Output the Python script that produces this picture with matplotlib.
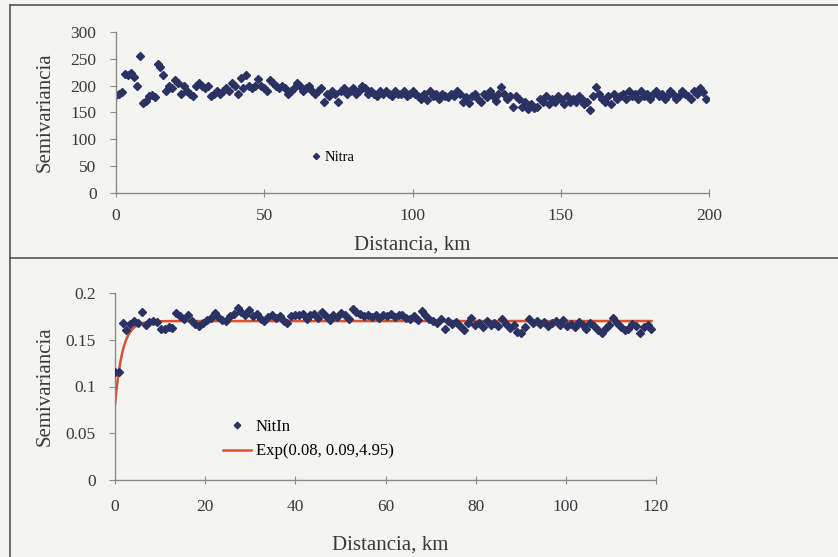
"""Semivariogramas de nitratos (Nitra) y log-nitratos (NitIn) con modelo exponencial."""

import numpy as np
import matplotlib
matplotlib.use("Agg")
from matplotlib import pyplot as plt
from matplotlib.lines import Line2D
from matplotlib.ticker import FormatStrFormatter

# --- panel superior: Nitra, un punto por clase de distancia de 1 km
lag_top = 1.0
nitra = [
    182, 185, 188, 222, 220, 223, 216, 200, 256, 168,
    172, 180, 182, 178, 240, 235, 220, 190, 200, 195,
    210, 205, 185, 200, 190, 185, 180, 200, 205, 200,
    195, 200, 180, 185, 190, 185, 190, 195, 190, 205,
    200, 185, 215, 195, 220, 200, 195, 200, 212, 200,
    195, 190, 210, 205, 200, 195, 200, 195, 185, 190,
    195, 205, 200, 190, 195, 200, 190, 185, 190, 195,
    170, 185, 180, 190, 185, 170, 190, 195, 185, 190,
    195, 185, 190, 200, 195, 185, 190, 185, 180, 190,
    185, 190, 185, 180, 190, 185, 185, 190, 180, 185,
    190, 185, 180, 175, 185, 173, 190, 180, 185, 175,
    185, 180, 178, 185, 180, 190, 185, 170, 178, 168,
    180, 185, 175, 170, 185, 178, 190, 180, 172, 185,
    197, 185, 175, 180, 160, 180, 175, 160, 170, 157,
    165, 158, 160, 175, 170, 180, 165, 175, 170, 180,
    175, 165, 180, 170, 175, 170, 180, 175, 165, 170,
    155, 180, 197, 185, 175, 170, 180, 165, 185, 175,
    180, 185, 175, 190, 180, 185, 175, 190, 180, 185,
    175, 185, 190, 180, 185, 175, 180, 190, 185, 175,
    180, 190, 185, 180, 175, 190, 185, 195, 188, 175,
]

# --- panel inferior: NitIn, clases de 0.85 km
lag_bot = 0.85
nitln = [
    0.116, 0.116, 0.168, 0.160, 0.167, 0.170, 0.168, 0.180, 0.166, 0.169,
    0.170, 0.169, 0.161, 0.162, 0.164, 0.163, 0.179, 0.175, 0.172, 0.177,
    0.170, 0.167, 0.165, 0.168, 0.171, 0.173, 0.179, 0.174, 0.171, 0.170,
    0.175, 0.178, 0.184, 0.180, 0.176, 0.182, 0.175, 0.178, 0.172, 0.170,
    0.174, 0.176, 0.173, 0.175, 0.170, 0.168, 0.175, 0.177, 0.176, 0.178,
    0.172, 0.176, 0.178, 0.173, 0.180, 0.175, 0.171, 0.177, 0.174, 0.179,
    0.176, 0.172, 0.183, 0.180, 0.178, 0.175, 0.177, 0.174, 0.176, 0.173,
    0.177, 0.175, 0.178, 0.174, 0.176, 0.177, 0.173, 0.172, 0.175, 0.171,
    0.181, 0.176, 0.172, 0.170, 0.168, 0.172, 0.161, 0.170, 0.167, 0.169,
    0.165, 0.160, 0.168, 0.173, 0.166, 0.168, 0.164, 0.170, 0.166, 0.168,
    0.165, 0.172, 0.167, 0.163, 0.166, 0.158, 0.157, 0.164, 0.172, 0.168,
    0.170, 0.167, 0.169, 0.165, 0.168, 0.170, 0.166, 0.171, 0.165, 0.167,
    0.164, 0.169, 0.166, 0.162, 0.168, 0.165, 0.160, 0.157, 0.163, 0.166,
    0.173, 0.168, 0.164, 0.160, 0.162, 0.167, 0.165, 0.157, 0.164, 0.166,
    0.162,
]

# modelo exponencial: pepita, meseta parcial, alcance
nugget, psill, rng = 0.08, 0.09, 4.95
model_label = "Exp(0.08, 0.09,4.95)"

BG = "#f4f4f3"
NAVY = "#2a3263"
RED = "#d5532f"
AXC = "#8a8a8a"
TXT = "#3a3a3a"

plt.rcParams["font.family"] = ["Liberation Serif", "DejaVu Serif"]

fig = plt.figure(figsize=(8.38, 5.57), dpi=100, facecolor=BG)

# marcos del documento
fig.add_artist(Line2D([10 / 838, 1], [1 - 5 / 557] * 2, color="#555555", lw=1.2))
fig.add_artist(Line2D([10 / 838] * 2, [0, 1 - 5 / 557], color="#555555", lw=1.2))
fig.add_artist(Line2D([10 / 838, 1], [1 - 258 / 557] * 2, color="#555555", lw=1.2))


def style_axes(ax, xpad):
    ax.set_facecolor(BG)
    for s in ("top", "right"):
        ax.spines[s].set_visible(False)
    for s in ("left", "bottom"):
        ax.spines[s].set_color(AXC)
        ax.spines[s].set_linewidth(1.0)
    ax.tick_params(axis="x", direction="inout", length=6, color=AXC, labelsize=12.5,
                   labelcolor=TXT, pad=xpad)
    ax.tick_params(axis="y", direction="out", length=4, color=AXC, labelsize=12.5,
                   labelcolor=TXT, pad=10)


# --- superior
ax1 = fig.add_axes([116 / 838, 1 - 193 / 557, 593 / 838, 161 / 557])
style_axes(ax1, 8)
x1 = np.arange(len(nitra)) * lag_top
ax1.plot(x1, nitra, "D", color=NAVY, ms=3.7, mec=NAVY, ls="none", label="Nitra")
ax1.set_xlim(0, 200)
ax1.set_ylim(0, 300)
ax1.set_xticks(range(0, 201, 50))
ax1.set_yticks(range(0, 301, 50))
ax1.set_xlabel("Distancia, km", fontsize=15, color=TXT)
ax1.set_ylabel("Semivariancia", fontsize=15, color=TXT)
ax1.xaxis.set_label_coords(0.5, -0.263)
ax1.yaxis.set_label_coords(-0.103, 0.5)
ax1.legend(loc="center left", bbox_to_anchor=(0.302, 0.22), frameon=False, fontsize=10.5,
           handletextpad=0.1, markerscale=0.85, handlelength=1.0)

# --- inferior
ax2 = fig.add_axes([115 / 838, 1 - 480 / 557, 541 / 838, 187 / 557])
style_axes(ax2, 11)
x2 = np.arange(len(nitln)) * lag_bot
hh = np.linspace(0, x2[-1], 400)
gamma = nugget + psill * (1 - np.exp(-3 * hh / rng))
ax2.plot(x2, nitln, "D", color=NAVY, ms=3.7, mec=NAVY, ls="none", label="NitIn", zorder=3)
ax2.plot(hh, gamma, color=RED, lw=1.8, label=model_label, zorder=2)
ax2.set_xlim(0, 120)
ax2.set_ylim(0, 0.2)
ax2.set_xticks(range(0, 121, 20))
ax2.set_yticks([0, 0.05, 0.1, 0.15, 0.2])
ax2.yaxis.set_major_formatter(FormatStrFormatter("%g"))
ax2.set_xlabel("Distancia, km", fontsize=15, color=TXT)
ax2.set_ylabel("Semivariancia", fontsize=15, color=TXT)
ax2.xaxis.set_label_coords(0.508, -0.297)
ax2.yaxis.set_label_coords(-0.111, 0.5)
ax2.legend(loc="upper left", bbox_to_anchor=(0.172, 0.406), frameon=False, fontsize=12,
           handletextpad=0.25, handlelength=1.7, labelspacing=0.5, markerscale=0.9)

fig.savefig("out.png", dpi=100, facecolor=BG)
